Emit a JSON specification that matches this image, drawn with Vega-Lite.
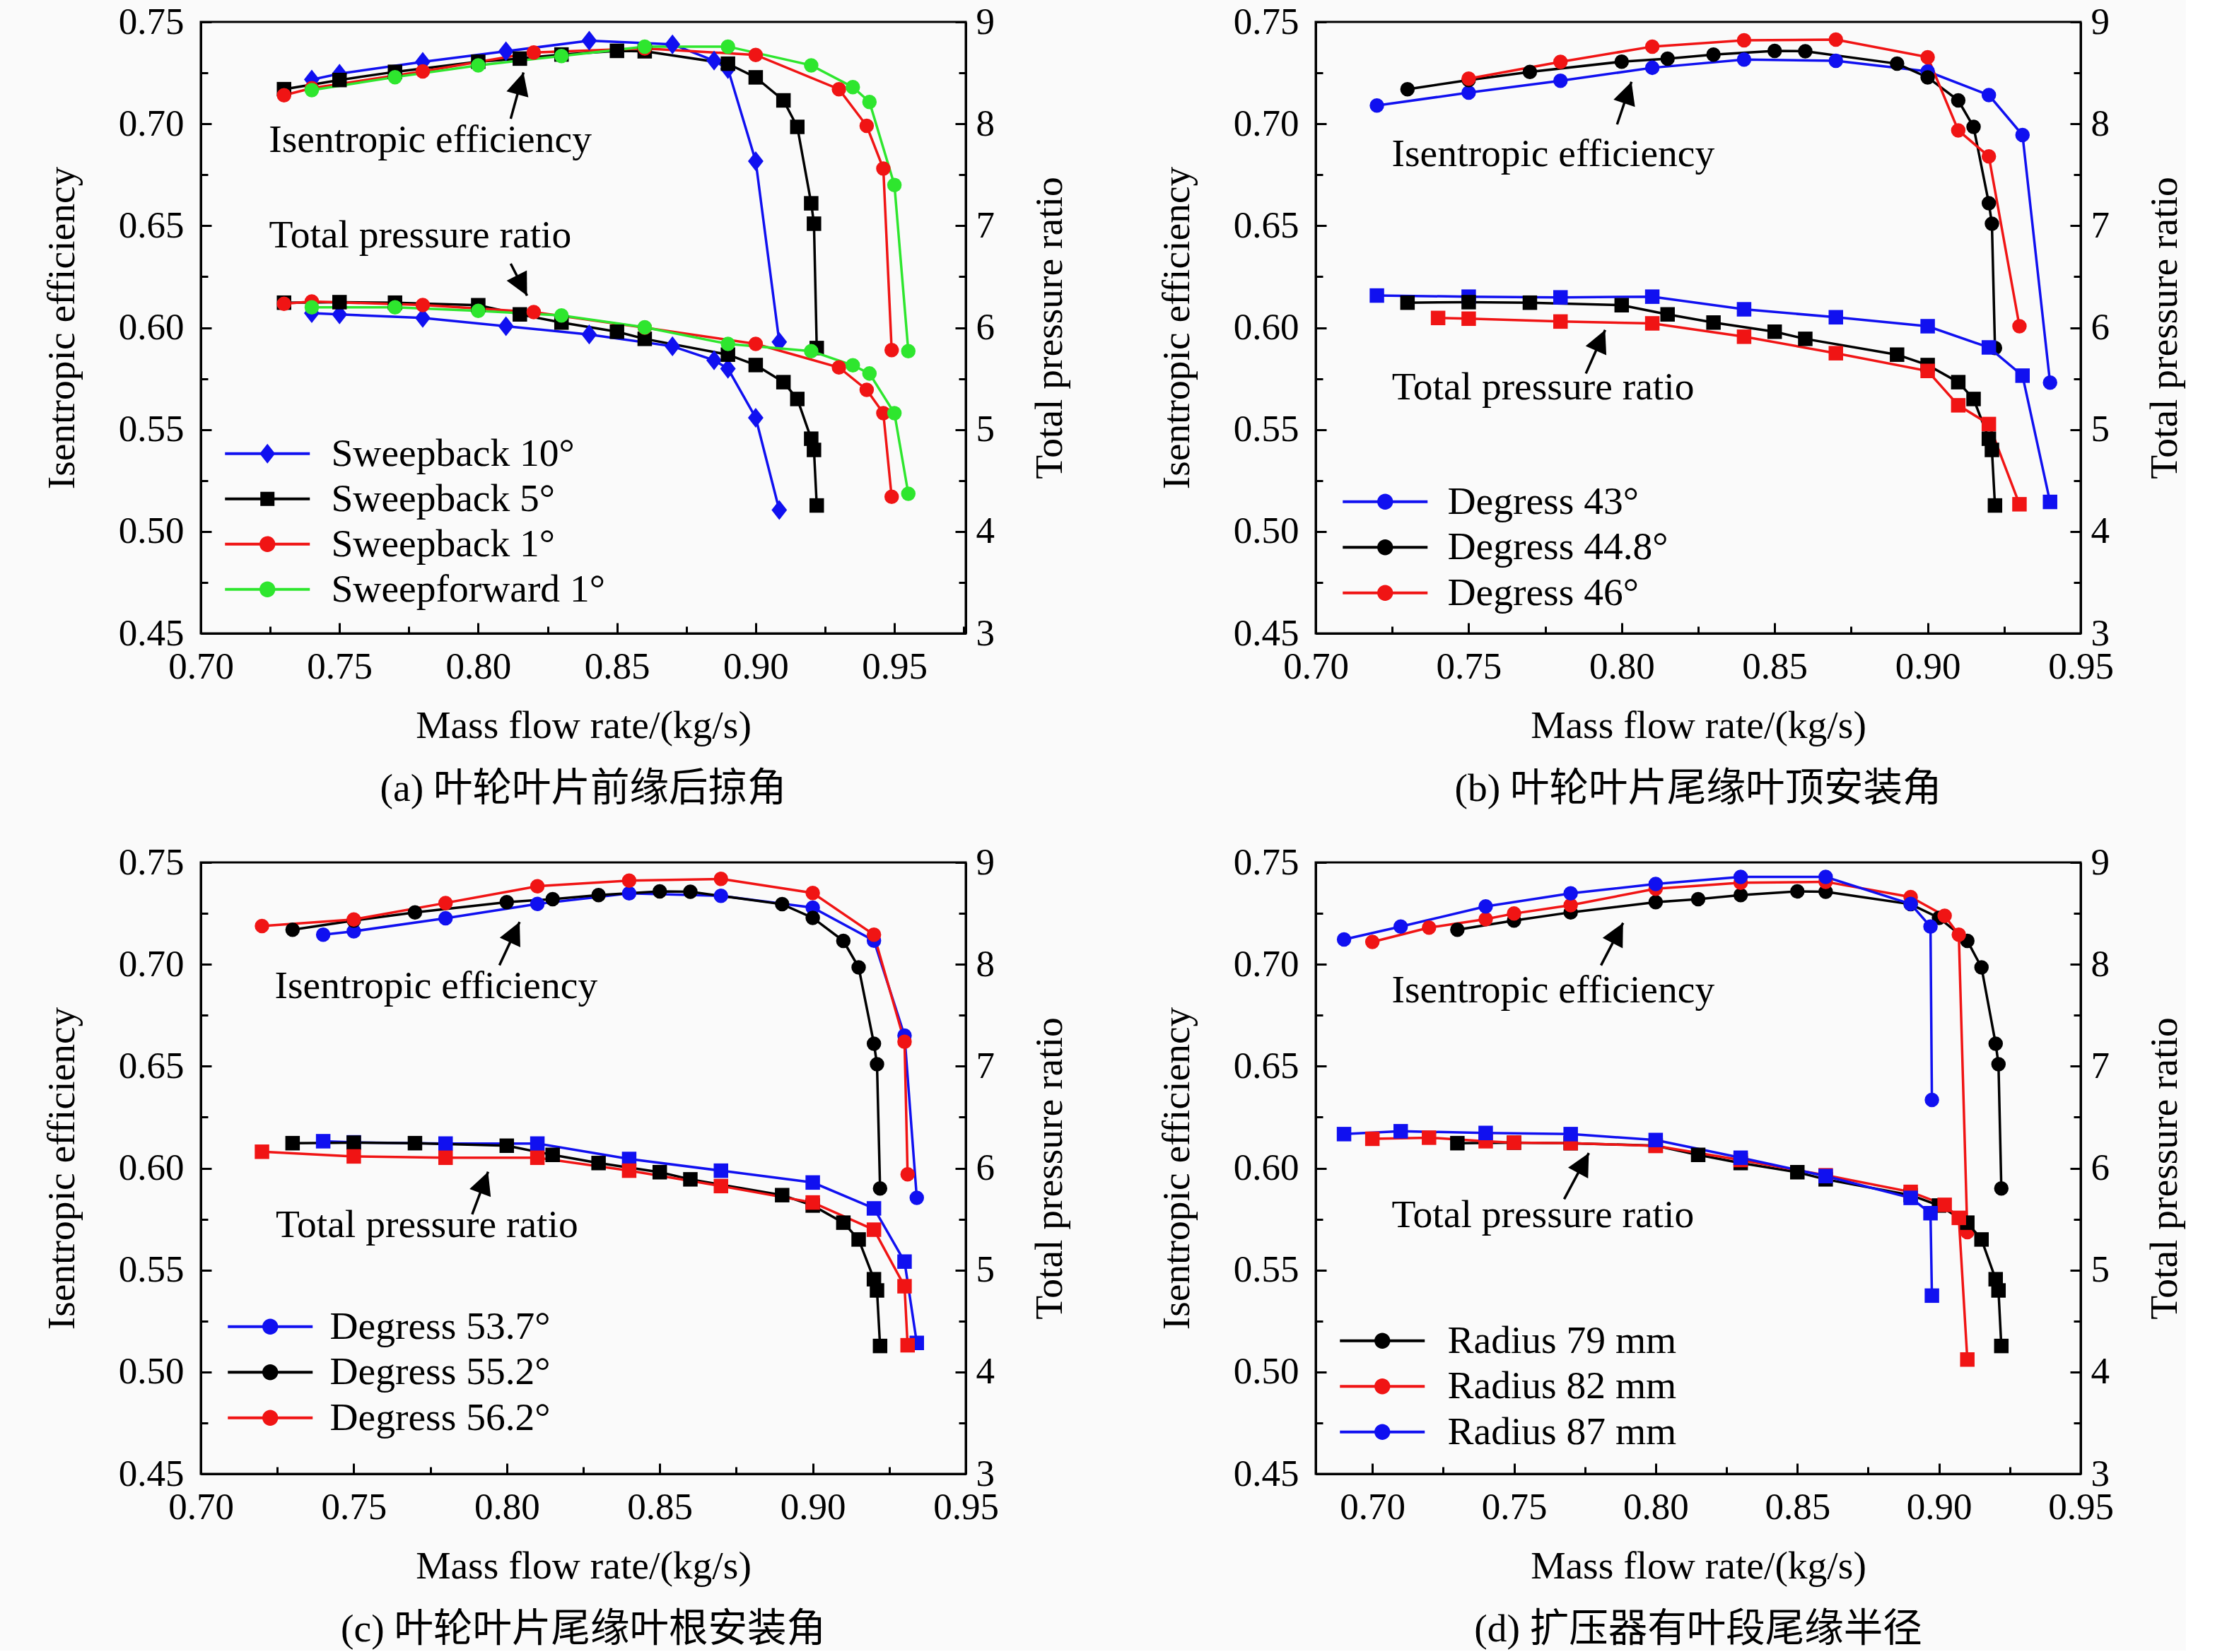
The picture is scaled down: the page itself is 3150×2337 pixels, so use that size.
{
  "$schema": "https://vega.github.io/schema/vega-lite/v6.json",
  "background": "#fafafa",
  "padding": {"left": 58, "top": 3, "right": 0, "bottom": 0},
  "datasets": {
    "a": [
      {"s": "Sweepback 10°", "x": 0.74, "eff": 0.7217, "pr": 6.143},
      {"s": "Sweepback 10°", "x": 0.75, "eff": 0.7246, "pr": 6.13},
      {"s": "Sweepback 10°", "x": 0.78, "eff": 0.7304, "pr": 6.095},
      {"s": "Sweepback 10°", "x": 0.81, "eff": 0.7356, "pr": 6.014},
      {"s": "Sweepback 10°", "x": 0.84, "eff": 0.7408, "pr": 5.933},
      {"s": "Sweepback 10°", "x": 0.87, "eff": 0.739, "pr": 5.817},
      {"s": "Sweepback 10°", "x": 0.885, "eff": 0.731, "pr": 5.68},
      {"s": "Sweepback 10°", "x": 0.89, "eff": 0.7269, "pr": 5.597},
      {"s": "Sweepback 10°", "x": 0.9, "eff": 0.6817, "pr": 5.116},
      {"s": "Sweepback 10°", "x": 0.9085, "eff": 0.593, "pr": 4.21},
      {"s": "Sweepback 5°", "x": 0.73, "eff": 0.717, "pr": 6.245},
      {"s": "Sweepback 5°", "x": 0.75, "eff": 0.7215, "pr": 6.25},
      {"s": "Sweepback 5°", "x": 0.77, "eff": 0.7255, "pr": 6.245},
      {"s": "Sweepback 5°", "x": 0.8, "eff": 0.7305, "pr": 6.22},
      {"s": "Sweepback 5°", "x": 0.815, "eff": 0.732, "pr": 6.13},
      {"s": "Sweepback 5°", "x": 0.83, "eff": 0.734, "pr": 6.05},
      {"s": "Sweepback 5°", "x": 0.85, "eff": 0.7358, "pr": 5.96},
      {"s": "Sweepback 5°", "x": 0.86, "eff": 0.7356, "pr": 5.89},
      {"s": "Sweepback 5°", "x": 0.89, "eff": 0.7295, "pr": 5.735},
      {"s": "Sweepback 5°", "x": 0.9, "eff": 0.7228, "pr": 5.633},
      {"s": "Sweepback 5°", "x": 0.91, "eff": 0.7115, "pr": 5.465},
      {"s": "Sweepback 5°", "x": 0.915, "eff": 0.6985, "pr": 5.3},
      {"s": "Sweepback 5°", "x": 0.92, "eff": 0.661, "pr": 4.91},
      {"s": "Sweepback 5°", "x": 0.921, "eff": 0.651, "pr": 4.8},
      {"s": "Sweepback 5°", "x": 0.922, "eff": 0.59, "pr": 4.255},
      {"s": "Sweepback 1°", "x": 0.73, "eff": 0.714, "pr": 6.234},
      {"s": "Sweepback 1°", "x": 0.74, "eff": 0.7175, "pr": 6.257},
      {"s": "Sweepback 1°", "x": 0.78, "eff": 0.7257, "pr": 6.222},
      {"s": "Sweepback 1°", "x": 0.82, "eff": 0.735, "pr": 6.153},
      {"s": "Sweepback 1°", "x": 0.86, "eff": 0.737, "pr": 6.0},
      {"s": "Sweepback 1°", "x": 0.9, "eff": 0.7338, "pr": 5.84},
      {"s": "Sweepback 1°", "x": 0.93, "eff": 0.717, "pr": 5.61},
      {"s": "Sweepback 1°", "x": 0.94, "eff": 0.699, "pr": 5.39},
      {"s": "Sweepback 1°", "x": 0.946, "eff": 0.678, "pr": 5.16},
      {"s": "Sweepback 1°", "x": 0.949, "eff": 0.589, "pr": 4.34},
      {"s": "Sweepforward 1°", "x": 0.74, "eff": 0.7165, "pr": 6.2},
      {"s": "Sweepforward 1°", "x": 0.77, "eff": 0.7229, "pr": 6.2},
      {"s": "Sweepforward 1°", "x": 0.8, "eff": 0.7287, "pr": 6.165},
      {"s": "Sweepforward 1°", "x": 0.83, "eff": 0.7333, "pr": 6.12},
      {"s": "Sweepforward 1°", "x": 0.86, "eff": 0.7379, "pr": 6.003},
      {"s": "Sweepforward 1°", "x": 0.89, "eff": 0.7379, "pr": 5.84},
      {"s": "Sweepforward 1°", "x": 0.92, "eff": 0.7287, "pr": 5.77},
      {"s": "Sweepforward 1°", "x": 0.935, "eff": 0.718, "pr": 5.63},
      {"s": "Sweepforward 1°", "x": 0.941, "eff": 0.7107, "pr": 5.55},
      {"s": "Sweepforward 1°", "x": 0.95, "eff": 0.67, "pr": 5.16},
      {"s": "Sweepforward 1°", "x": 0.955, "eff": 0.5885, "pr": 4.37}
    ],
    "b": [
      {"s": "Degress 43°", "x": 0.72, "eff": 0.709, "pr": 6.315},
      {"s": "Degress 43°", "x": 0.75, "eff": 0.7153, "pr": 6.304},
      {"s": "Degress 43°", "x": 0.78, "eff": 0.7211, "pr": 6.297},
      {"s": "Degress 43°", "x": 0.81, "eff": 0.7275, "pr": 6.304},
      {"s": "Degress 43°", "x": 0.84, "eff": 0.7315, "pr": 6.18},
      {"s": "Degress 43°", "x": 0.87, "eff": 0.7309, "pr": 6.102},
      {"s": "Degress 43°", "x": 0.9, "eff": 0.7257, "pr": 6.014},
      {"s": "Degress 43°", "x": 0.92, "eff": 0.7141, "pr": 5.806},
      {"s": "Degress 43°", "x": 0.931, "eff": 0.6945, "pr": 5.529},
      {"s": "Degress 43°", "x": 0.94, "eff": 0.573, "pr": 4.29},
      {"s": "Degress 44.8°", "x": 0.73, "eff": 0.717, "pr": 6.245},
      {"s": "Degress 44.8°", "x": 0.75, "eff": 0.7215, "pr": 6.25},
      {"s": "Degress 44.8°", "x": 0.77, "eff": 0.7255, "pr": 6.245},
      {"s": "Degress 44.8°", "x": 0.8, "eff": 0.7305, "pr": 6.22},
      {"s": "Degress 44.8°", "x": 0.815, "eff": 0.732, "pr": 6.13},
      {"s": "Degress 44.8°", "x": 0.83, "eff": 0.734, "pr": 6.05},
      {"s": "Degress 44.8°", "x": 0.85, "eff": 0.7358, "pr": 5.96},
      {"s": "Degress 44.8°", "x": 0.86, "eff": 0.7356, "pr": 5.89},
      {"s": "Degress 44.8°", "x": 0.89, "eff": 0.7295, "pr": 5.735},
      {"s": "Degress 44.8°", "x": 0.9, "eff": 0.7228, "pr": 5.633},
      {"s": "Degress 44.8°", "x": 0.91, "eff": 0.7115, "pr": 5.465},
      {"s": "Degress 44.8°", "x": 0.915, "eff": 0.6985, "pr": 5.3},
      {"s": "Degress 44.8°", "x": 0.92, "eff": 0.661, "pr": 4.91},
      {"s": "Degress 44.8°", "x": 0.921, "eff": 0.651, "pr": 4.8},
      {"s": "Degress 44.8°", "x": 0.922, "eff": 0.59, "pr": 4.255},
      {"s": "Degress 46°", "x": 0.74, "eff": null, "pr": 6.095},
      {"s": "Degress 46°", "x": 0.75, "eff": 0.7222, "pr": 6.088},
      {"s": "Degress 46°", "x": 0.78, "eff": 0.7304, "pr": 6.06},
      {"s": "Degress 46°", "x": 0.81, "eff": 0.7379, "pr": 6.042},
      {"s": "Degress 46°", "x": 0.84, "eff": 0.741, "pr": 5.911},
      {"s": "Degress 46°", "x": 0.87, "eff": 0.7413, "pr": 5.749},
      {"s": "Degress 46°", "x": 0.9, "eff": 0.7327, "pr": 5.575},
      {"s": "Degress 46°", "x": 0.91, "eff": 0.6968, "pr": 5.238},
      {"s": "Degress 46°", "x": 0.92, "eff": 0.684, "pr": 5.054},
      {"s": "Degress 46°", "x": 0.93, "eff": 0.6007, "pr": 4.267}
    ],
    "c": [
      {"s": "Degress 53.7°", "x": 0.74, "eff": 0.7145, "pr": 6.264},
      {"s": "Degress 53.7°", "x": 0.75, "eff": 0.7162, "pr": 6.253},
      {"s": "Degress 53.7°", "x": 0.78, "eff": 0.7226, "pr": 6.241},
      {"s": "Degress 53.7°", "x": 0.81, "eff": 0.7296, "pr": 6.241},
      {"s": "Degress 53.7°", "x": 0.84, "eff": 0.7348, "pr": 6.09},
      {"s": "Degress 53.7°", "x": 0.87, "eff": 0.7336, "pr": 5.975},
      {"s": "Degress 53.7°", "x": 0.9, "eff": 0.7278, "pr": 5.859},
      {"s": "Degress 53.7°", "x": 0.92, "eff": 0.7116, "pr": 5.605},
      {"s": "Degress 53.7°", "x": 0.93, "eff": 0.665, "pr": 5.083},
      {"s": "Degress 53.7°", "x": 0.934, "eff": 0.5854, "pr": 4.285},
      {"s": "Degress 55.2°", "x": 0.73, "eff": 0.717, "pr": 6.245},
      {"s": "Degress 55.2°", "x": 0.75, "eff": 0.7215, "pr": 6.25},
      {"s": "Degress 55.2°", "x": 0.77, "eff": 0.7255, "pr": 6.245},
      {"s": "Degress 55.2°", "x": 0.8, "eff": 0.7305, "pr": 6.22},
      {"s": "Degress 55.2°", "x": 0.815, "eff": 0.732, "pr": 6.13},
      {"s": "Degress 55.2°", "x": 0.83, "eff": 0.734, "pr": 6.05},
      {"s": "Degress 55.2°", "x": 0.85, "eff": 0.7358, "pr": 5.96},
      {"s": "Degress 55.2°", "x": 0.86, "eff": 0.7356, "pr": 5.89},
      {"s": "Degress 55.2°", "x": 0.89, "eff": 0.7295, "pr": 5.735},
      {"s": "Degress 55.2°", "x": 0.9, "eff": 0.7228, "pr": 5.633},
      {"s": "Degress 55.2°", "x": 0.91, "eff": 0.7115, "pr": 5.465},
      {"s": "Degress 55.2°", "x": 0.915, "eff": 0.6985, "pr": 5.3},
      {"s": "Degress 55.2°", "x": 0.92, "eff": 0.661, "pr": 4.91},
      {"s": "Degress 55.2°", "x": 0.921, "eff": 0.651, "pr": 4.8},
      {"s": "Degress 55.2°", "x": 0.922, "eff": 0.59, "pr": 4.255},
      {"s": "Degress 56.2°", "x": 0.72, "eff": 0.7188, "pr": 6.161},
      {"s": "Degress 56.2°", "x": 0.75, "eff": 0.722, "pr": 6.115},
      {"s": "Degress 56.2°", "x": 0.78, "eff": 0.7301, "pr": 6.102},
      {"s": "Degress 56.2°", "x": 0.81, "eff": 0.7383, "pr": 6.102},
      {"s": "Degress 56.2°", "x": 0.84, "eff": 0.7411, "pr": 5.975},
      {"s": "Degress 56.2°", "x": 0.87, "eff": 0.7419, "pr": 5.824},
      {"s": "Degress 56.2°", "x": 0.9, "eff": 0.735, "pr": 5.663},
      {"s": "Degress 56.2°", "x": 0.92, "eff": 0.7145, "pr": 5.396},
      {"s": "Degress 56.2°", "x": 0.93, "eff": 0.662, "pr": 4.841},
      {"s": "Degress 56.2°", "x": 0.931, "eff": 0.597, "pr": 4.262}
    ],
    "d": [
      {"s": "Radius 79 mm", "x": 0.73, "eff": 0.717, "pr": 6.245},
      {"s": "Radius 79 mm", "x": 0.75, "eff": 0.7215, "pr": 6.25},
      {"s": "Radius 79 mm", "x": 0.77, "eff": 0.7255, "pr": 6.245},
      {"s": "Radius 79 mm", "x": 0.8, "eff": 0.7305, "pr": 6.22},
      {"s": "Radius 79 mm", "x": 0.815, "eff": 0.732, "pr": 6.13},
      {"s": "Radius 79 mm", "x": 0.83, "eff": 0.734, "pr": 6.05},
      {"s": "Radius 79 mm", "x": 0.85, "eff": 0.7358, "pr": 5.96},
      {"s": "Radius 79 mm", "x": 0.86, "eff": 0.7356, "pr": 5.89},
      {"s": "Radius 79 mm", "x": 0.89, "eff": 0.7295, "pr": 5.735},
      {"s": "Radius 79 mm", "x": 0.9, "eff": 0.7228, "pr": 5.633},
      {"s": "Radius 79 mm", "x": 0.91, "eff": 0.7115, "pr": 5.465},
      {"s": "Radius 79 mm", "x": 0.915, "eff": 0.6985, "pr": 5.3},
      {"s": "Radius 79 mm", "x": 0.92, "eff": 0.661, "pr": 4.91},
      {"s": "Radius 79 mm", "x": 0.921, "eff": 0.651, "pr": 4.8},
      {"s": "Radius 79 mm", "x": 0.922, "eff": 0.59, "pr": 4.255},
      {"s": "Radius 82 mm", "x": 0.7, "eff": 0.711, "pr": 6.288},
      {"s": "Radius 82 mm", "x": 0.72, "eff": 0.718, "pr": 6.299},
      {"s": "Radius 82 mm", "x": 0.74, "eff": 0.7222, "pr": 6.264},
      {"s": "Radius 82 mm", "x": 0.75, "eff": 0.7249, "pr": 6.25},
      {"s": "Radius 82 mm", "x": 0.77, "eff": 0.729, "pr": 6.245},
      {"s": "Radius 82 mm", "x": 0.8, "eff": 0.7371, "pr": 6.218},
      {"s": "Radius 82 mm", "x": 0.83, "eff": 0.74, "pr": 6.08},
      {"s": "Radius 82 mm", "x": 0.86, "eff": 0.7405, "pr": 5.93},
      {"s": "Radius 82 mm", "x": 0.89, "eff": 0.733, "pr": 5.767},
      {"s": "Radius 82 mm", "x": 0.902, "eff": 0.7238, "pr": 5.64},
      {"s": "Radius 82 mm", "x": 0.907, "eff": 0.7145, "pr": 5.512},
      {"s": "Radius 82 mm", "x": 0.91, "eff": 0.5686, "pr": 4.122},
      {"s": "Radius 87 mm", "x": 0.69, "eff": 0.7122, "pr": 6.334},
      {"s": "Radius 87 mm", "x": 0.71, "eff": 0.7185, "pr": 6.362},
      {"s": "Radius 87 mm", "x": 0.74, "eff": 0.7284, "pr": 6.345},
      {"s": "Radius 87 mm", "x": 0.77, "eff": 0.7348, "pr": 6.334},
      {"s": "Radius 87 mm", "x": 0.8, "eff": 0.7394, "pr": 6.276},
      {"s": "Radius 87 mm", "x": 0.83, "eff": 0.7429, "pr": 6.102},
      {"s": "Radius 87 mm", "x": 0.86, "eff": 0.7429, "pr": 5.922},
      {"s": "Radius 87 mm", "x": 0.89, "eff": 0.7296, "pr": 5.708},
      {"s": "Radius 87 mm", "x": 0.897, "eff": 0.7185, "pr": 5.558},
      {"s": "Radius 87 mm", "x": 0.8975, "eff": 0.6335, "pr": 4.749}
    ]
  },
  "columns": 2,
  "spacing": {"row": 324, "column": 495},
  "bounds": "flush",
  "concat": [
    {
      "width": 1082,
      "height": 865,
      "data": {"name": "a"},
      "title": "(a) 叶轮叶片前缘后掠角",
      "encoding": {
        "x": {
          "field": "x", "type": "quantitative",
          "scale": {"domain": [0.7, 0.9757], "nice": false, "zero": false},
          "axis": {
            "title": "Mass flow rate/(kg/s)",
            "values": [0.7, 0.725, 0.75, 0.775, 0.8, 0.825, 0.85, 0.875, 0.9, 0.925, 0.95, 0.975],
            "labelExpr": "abs(datum.value*20-round(datum.value*20))<0.01 ? format(datum.value, '.2f') : ''",
            "tickSize": {"condition": {"test": "abs(datum.value*20-round(datum.value*20))<0.01", "value": -15}, "value": -10},
            "labelPadding": 36, "titlePadding": 24
          }
        }
      },
      "layer": [
        {
          "encoding": {
            "y": {
              "field": "eff", "type": "quantitative",
              "scale": {"domain": [0.45, 0.75], "nice": false, "zero": false},
              "axis": {
                "title": "Isentropic efficiency", "orient": "left",
                "values": [0.45, 0.475, 0.5, 0.525, 0.55, 0.575, 0.6, 0.625, 0.65, 0.675, 0.7, 0.725, 0.75],
                "labelExpr": "abs(datum.value*20-round(datum.value*20))<0.01 ? format(datum.value, '.2f') : ''",
                "tickSize": {"condition": {"test": "abs(datum.value*20-round(datum.value*20))<0.01", "value": -15}, "value": -10},
                "labelPadding": 39, "titlePadding": 51
              }
            }
          },
          "layer": [
            {
              "mark": {"type": "line", "strokeWidth": 3.5},
              "encoding": {
                "color": {"field": "s", "type": "nominal", "legend": null,
                  "scale": {"domain": ["Sweepback 10°", "Sweepback 5°", "Sweepback 1°", "Sweepforward 1°"], "range": ["#1010f0", "#000000", "#f01414", "#2ee62e"]}}
              }
            },
            {
              "mark": {"type": "point", "filled": true, "opacity": 1, "size": 420},
              "encoding": {
                "color": {"field": "s", "type": "nominal", "legend": null},
                "shape": {"field": "s", "type": "nominal", "legend": null,
                  "scale": {"domain": ["Sweepback 10°", "Sweepback 5°", "Sweepback 1°", "Sweepforward 1°"], "range": ["M0,-1.37L1.07,0L0,1.37L-1.07,0Z", "square", "circle", "circle"]}}
              }
            },
            {
              "transform": [{"filter": "datum.x == 0.73 && datum.pr == 6.245"}],
              "mark": {"type": "text", "text": "Isentropic efficiency", "fontSize": 55.5, "color": "black", "align": "center", "baseline": "middle"},
              "encoding": {"x": {"datum": 0.7827}, "y": {"datum": 0.6921}}
            },
            {
              "transform": [{"filter": "datum.x == 0.73 && datum.pr == 6.245"}],
              "mark": {"type": "rule", "strokeWidth": 3.5, "color": "black"},
              "encoding": {"x": {"datum": 0.8117}, "y": {"datum": 0.7025}, "x2": {"datum": 0.8163}, "y2": {"datum": 0.7252}}
            },
            {
              "transform": [{"filter": "datum.x == 0.73 && datum.pr == 6.245"}],
              "mark": {"type": "point", "shape": "M0,0L0.55,1.1L-0.55,1.1Z", "size": 3400, "filled": true, "color": "black", "opacity": 1, "angle": 15.4},
              "encoding": {"x": {"datum": 0.8163}, "y": {"datum": 0.7252}}
            },
            {
              "transform": [{"filter": "datum.x == 0.73 && datum.pr == 6.245"}],
              "mark": {"type": "text", "text": "Total pressure ratio", "fontSize": 55.5, "color": "black", "align": "center", "baseline": "middle"},
              "encoding": {"x": {"datum": 0.7791}, "y": {"datum": 0.6453}}
            },
            {
              "transform": [{"filter": "datum.x == 0.73 && datum.pr == 6.245"}],
              "mark": {"type": "rule", "strokeWidth": 3.5, "color": "black"},
              "encoding": {"x": {"datum": 0.8117}, "y": {"datum": 0.6314}, "x2": {"datum": 0.8176}, "y2": {"datum": 0.6157}}
            },
            {
              "transform": [{"filter": "datum.x == 0.73 && datum.pr == 6.245"}],
              "mark": {"type": "point", "shape": "M0,0L0.55,1.1L-0.55,1.1Z", "size": 3400, "filled": true, "color": "black", "opacity": 1, "angle": 152.9},
              "encoding": {"x": {"datum": 0.8176}, "y": {"datum": 0.6157}}
            }
          ]
        },
        {
          "encoding": {
            "y": {
              "field": "pr", "type": "quantitative",
              "scale": {"domain": [3, 9], "nice": false, "zero": false},
              "axis": {
                "title": "Total pressure ratio", "orient": "right",
                "values": [3, 3.5, 4, 4.5, 5, 5.5, 6, 6.5, 7, 7.5, 8, 8.5, 9],
                "labelExpr": "datum.value % 1 == 0 ? format(datum.value, 'd') : ''",
                "tickSize": {"condition": {"test": "datum.value % 1 == 0", "value": -15}, "value": -10},
                "labelPadding": 29, "titleAngle": 270, "titleBaseline": "top", "titlePadding": 51
              }
            },
            "color": {"field": "s", "type": "nominal", "legend": null,
              "scale": {"domain": ["Sweepback 10°", "Sweepback 5°", "Sweepback 1°", "Sweepforward 1°"], "range": ["#1010f0", "#000000", "#f01414", "#2ee62e"]}}
          },
          "layer": [
            {"mark": {"type": "line", "strokeWidth": 3.5}},
            {
              "mark": {"type": "point", "filled": true, "opacity": 1, "size": 420},
              "encoding": {
                "shape": {"field": "s", "type": "nominal", "legend": null,
                  "scale": {"domain": ["Sweepback 10°", "Sweepback 5°", "Sweepback 1°", "Sweepforward 1°"], "range": ["M0,-1.37L1.07,0L0,1.37L-1.07,0Z", "square", "circle", "circle"]}}
              }
            }
          ]
        },
        {
          "data": {"values": []},
          "mark": {"type": "point", "filled": true, "opacity": 1},
          "encoding": {
            "color": {"field": "s", "type": "nominal",
              "scale": {"domain": ["Sweepback 10°", "Sweepback 5°", "Sweepback 1°", "Sweepforward 1°"], "range": ["#1010f0", "#000000", "#f01414", "#2ee62e"]},
              "legend": {"orient": "none", "legendX": 66.5, "legendY": 583, "title": null, "padding": 0, "symbolSize": 1600, "symbolStrokeWidth": 0, "labelOffset": 62.5, "rowPadding": 7, "labelFontSize": 55.5, "labelColor": "black", "labelLimit": 0}},
            "shape": {"field": "s", "type": "nominal",
              "scale": {"domain": ["Sweepback 10°", "Sweepback 5°", "Sweepback 1°", "Sweepforward 1°"], "range": [
                "M-3,-0.1H3V0.1H-3Z M0,-0.7L0.55,0L0,0.7L-0.55,0Z",
                "M-3,-0.1H3V0.1H-3Z M-0.5,-0.5H0.5V0.5H-0.5Z",
                "M-3,-0.1H3V0.1H-3Z M-0.56,0A0.56,0.56,0,1,1,0.56,0A0.56,0.56,0,1,1,-0.56,0Z",
                "M-3,-0.1H3V0.1H-3Z M-0.56,0A0.56,0.56,0,1,1,0.56,0A0.56,0.56,0,1,1,-0.56,0Z"]}}
          }
        }
      ],
      "resolve": {"scale": {"y": "independent", "color": "independent", "shape": "independent"}}
    },
    {
      "width": 1082,
      "height": 865,
      "data": {"name": "b"},
      "title": "(b) 叶轮叶片尾缘叶顶安装角",
      "encoding": {
        "x": {
          "field": "x", "type": "quantitative",
          "scale": {"domain": [0.7, 0.95], "nice": false, "zero": false},
          "axis": {
            "title": "Mass flow rate/(kg/s)",
            "values": [0.7, 0.725, 0.75, 0.775, 0.8, 0.825, 0.85, 0.875, 0.9, 0.925, 0.95],
            "labelExpr": "abs(datum.value*20-round(datum.value*20))<0.01 ? format(datum.value, '.2f') : ''",
            "tickSize": {"condition": {"test": "abs(datum.value*20-round(datum.value*20))<0.01", "value": -15}, "value": -10},
            "labelPadding": 36, "titlePadding": 24
          }
        }
      },
      "layer": [
        {
          "encoding": {
            "y": {
              "field": "eff", "type": "quantitative",
              "scale": {"domain": [0.45, 0.75], "nice": false, "zero": false},
              "axis": {
                "title": "Isentropic efficiency", "orient": "left",
                "values": [0.45, 0.475, 0.5, 0.525, 0.55, 0.575, 0.6, 0.625, 0.65, 0.675, 0.7, 0.725, 0.75],
                "labelExpr": "abs(datum.value*20-round(datum.value*20))<0.01 ? format(datum.value, '.2f') : ''",
                "tickSize": {"condition": {"test": "abs(datum.value*20-round(datum.value*20))<0.01", "value": -15}, "value": -10},
                "labelPadding": 39, "titlePadding": 51
              }
            }
          },
          "layer": [
            {
              "mark": {"type": "line", "strokeWidth": 3.5},
              "encoding": {"color": {"field": "s", "type": "nominal", "legend": null,
                "scale": {"domain": ["Degress 43°", "Degress 44.8°", "Degress 46°"], "range": ["#1010f0", "#000000", "#f01414"]}}}
            },
            {
              "mark": {"type": "point", "filled": true, "opacity": 1, "size": 420, "shape": "circle"},
              "encoding": {"color": {"field": "s", "type": "nominal", "legend": null}}
            },
            {
              "transform": [{"filter": "datum.x == 0.73 && datum.pr == 6.245"}],
              "mark": {"type": "text", "text": "Isentropic efficiency", "fontSize": 55.5, "color": "black", "align": "center", "baseline": "middle"},
              "encoding": {"x": {"datum": 0.7776}, "y": {"datum": 0.6851}}
            },
            {
              "transform": [{"filter": "datum.x == 0.73 && datum.pr == 6.245"}],
              "mark": {"type": "rule", "strokeWidth": 3.5, "color": "black"},
              "encoding": {"x": {"datum": 0.7985}, "y": {"datum": 0.6997}, "x2": {"datum": 0.8032}, "y2": {"datum": 0.7206}}
            },
            {
              "transform": [{"filter": "datum.x == 0.73 && datum.pr == 6.245"}],
              "mark": {"type": "point", "shape": "M0,0L0.55,1.1L-0.55,1.1Z", "size": 3400, "filled": true, "color": "black", "opacity": 1, "angle": 18.6},
              "encoding": {"x": {"datum": 0.8032}, "y": {"datum": 0.7206}}
            },
            {
              "transform": [{"filter": "datum.x == 0.73 && datum.pr == 6.245"}],
              "mark": {"type": "text", "text": "Total pressure ratio", "fontSize": 55.5, "color": "black", "align": "center", "baseline": "middle"},
              "encoding": {"x": {"datum": 0.7743}, "y": {"datum": 0.5707}}
            },
            {
              "transform": [{"filter": "datum.x == 0.73 && datum.pr == 6.245"}],
              "mark": {"type": "rule", "strokeWidth": 3.5, "color": "black"},
              "encoding": {"x": {"datum": 0.7883}, "y": {"datum": 0.5775}, "x2": {"datum": 0.7946}, "y2": {"datum": 0.5989}}
            },
            {
              "transform": [{"filter": "datum.x == 0.73 && datum.pr == 6.245"}],
              "mark": {"type": "point", "shape": "M0,0L0.55,1.1L-0.55,1.1Z", "size": 3400, "filled": true, "color": "black", "opacity": 1, "angle": 23.9},
              "encoding": {"x": {"datum": 0.7946}, "y": {"datum": 0.5989}}
            }
          ]
        },
        {
          "encoding": {
            "y": {
              "field": "pr", "type": "quantitative",
              "scale": {"domain": [3, 9], "nice": false, "zero": false},
              "axis": {
                "title": "Total pressure ratio", "orient": "right",
                "values": [3, 3.5, 4, 4.5, 5, 5.5, 6, 6.5, 7, 7.5, 8, 8.5, 9],
                "labelExpr": "datum.value % 1 == 0 ? format(datum.value, 'd') : ''",
                "tickSize": {"condition": {"test": "datum.value % 1 == 0", "value": -15}, "value": -10},
                "labelPadding": 29, "titleAngle": 270, "titleBaseline": "top", "titlePadding": 51
              }
            },
            "color": {"field": "s", "type": "nominal", "legend": null,
              "scale": {"domain": ["Degress 43°", "Degress 44.8°", "Degress 46°"], "range": ["#1010f0", "#000000", "#f01414"]}}
          },
          "layer": [
            {"mark": {"type": "line", "strokeWidth": 3.5}},
            {"mark": {"type": "point", "filled": true, "opacity": 1, "size": 420, "shape": "square"}}
          ]
        },
        {
          "data": {"values": []},
          "mark": {"type": "point", "filled": true, "opacity": 1},
          "encoding": {
            "color": {"field": "s", "type": "nominal",
              "scale": {"domain": ["Degress 43°", "Degress 44.8°", "Degress 46°"], "range": ["#1010f0", "#000000", "#f01414"]},
              "legend": {"orient": "none", "legendX": 70.5, "legendY": 651, "title": null, "padding": 0, "symbolSize": 1600, "symbolStrokeWidth": 0, "labelOffset": 60.5, "rowPadding": 7.5, "labelFontSize": 55.5, "labelColor": "black", "labelLimit": 0,
                "symbolType": "M-3,-0.1H3V0.1H-3Z M-0.56,0A0.56,0.56,0,1,1,0.56,0A0.56,0.56,0,1,1,-0.56,0Z"}}
          }
        }
      ],
      "resolve": {"scale": {"y": "independent", "color": "independent"}}
    },
    {
      "width": 1082,
      "height": 865,
      "data": {"name": "c"},
      "title": "(c) 叶轮叶片尾缘叶根安装角",
      "encoding": {
        "x": {
          "field": "x", "type": "quantitative",
          "scale": {"domain": [0.7, 0.95], "nice": false, "zero": false},
          "axis": {
            "title": "Mass flow rate/(kg/s)",
            "values": [0.7, 0.725, 0.75, 0.775, 0.8, 0.825, 0.85, 0.875, 0.9, 0.925, 0.95],
            "labelExpr": "abs(datum.value*20-round(datum.value*20))<0.01 ? format(datum.value, '.2f') : ''",
            "tickSize": {"condition": {"test": "abs(datum.value*20-round(datum.value*20))<0.01", "value": -15}, "value": -10},
            "labelPadding": 36, "titlePadding": 24
          }
        }
      },
      "layer": [
        {
          "encoding": {
            "y": {
              "field": "eff", "type": "quantitative",
              "scale": {"domain": [0.45, 0.75], "nice": false, "zero": false},
              "axis": {
                "title": "Isentropic efficiency", "orient": "left",
                "values": [0.45, 0.475, 0.5, 0.525, 0.55, 0.575, 0.6, 0.625, 0.65, 0.675, 0.7, 0.725, 0.75],
                "labelExpr": "abs(datum.value*20-round(datum.value*20))<0.01 ? format(datum.value, '.2f') : ''",
                "tickSize": {"condition": {"test": "abs(datum.value*20-round(datum.value*20))<0.01", "value": -15}, "value": -10},
                "labelPadding": 39, "titlePadding": 51
              }
            }
          },
          "layer": [
            {
              "mark": {"type": "line", "strokeWidth": 3.5},
              "encoding": {"color": {"field": "s", "type": "nominal", "legend": null,
                "scale": {"domain": ["Degress 53.7°", "Degress 55.2°", "Degress 56.2°"], "range": ["#1010f0", "#000000", "#f01414"]}}}
            },
            {
              "mark": {"type": "point", "filled": true, "opacity": 1, "size": 420, "shape": "circle"},
              "encoding": {"color": {"field": "s", "type": "nominal", "legend": null}}
            },
            {
              "transform": [{"filter": "datum.x == 0.73 && datum.pr == 6.245"}],
              "mark": {"type": "text", "text": "Isentropic efficiency", "fontSize": 55.5, "color": "black", "align": "center", "baseline": "middle"},
              "encoding": {"x": {"datum": 0.7769}, "y": {"datum": 0.6893}}
            },
            {
              "transform": [{"filter": "datum.x == 0.73 && datum.pr == 6.245"}],
              "mark": {"type": "rule", "strokeWidth": 3.5, "color": "black"},
              "encoding": {"x": {"datum": 0.7976}, "y": {"datum": 0.6995}, "x2": {"datum": 0.8042}, "y2": {"datum": 0.7208}}
            },
            {
              "transform": [{"filter": "datum.x == 0.73 && datum.pr == 6.245"}],
              "mark": {"type": "point", "shape": "M0,0L0.55,1.1L-0.55,1.1Z", "size": 3400, "filled": true, "color": "black", "opacity": 1, "angle": 25},
              "encoding": {"x": {"datum": 0.8042}, "y": {"datum": 0.7208}}
            },
            {
              "transform": [{"filter": "datum.x == 0.73 && datum.pr == 6.245"}],
              "mark": {"type": "text", "text": "Total pressure ratio", "fontSize": 55.5, "color": "black", "align": "center", "baseline": "middle"},
              "encoding": {"x": {"datum": 0.7739}, "y": {"datum": 0.572}}
            },
            {
              "transform": [{"filter": "datum.x == 0.73 && datum.pr == 6.245"}],
              "mark": {"type": "rule", "strokeWidth": 3.5, "color": "black"},
              "encoding": {"x": {"datum": 0.7887}, "y": {"datum": 0.5773}, "x2": {"datum": 0.7939}, "y2": {"datum": 0.5982}}
            },
            {
              "transform": [{"filter": "datum.x == 0.73 && datum.pr == 6.245"}],
              "mark": {"type": "point", "shape": "M0,0L0.55,1.1L-0.55,1.1Z", "size": 3400, "filled": true, "color": "black", "opacity": 1, "angle": 20.5},
              "encoding": {"x": {"datum": 0.7939}, "y": {"datum": 0.5982}}
            }
          ]
        },
        {
          "encoding": {
            "y": {
              "field": "pr", "type": "quantitative",
              "scale": {"domain": [3, 9], "nice": false, "zero": false},
              "axis": {
                "title": "Total pressure ratio", "orient": "right",
                "values": [3, 3.5, 4, 4.5, 5, 5.5, 6, 6.5, 7, 7.5, 8, 8.5, 9],
                "labelExpr": "datum.value % 1 == 0 ? format(datum.value, 'd') : ''",
                "tickSize": {"condition": {"test": "datum.value % 1 == 0", "value": -15}, "value": -10},
                "labelPadding": 29, "titleAngle": 270, "titleBaseline": "top", "titlePadding": 51
              }
            },
            "color": {"field": "s", "type": "nominal", "legend": null,
              "scale": {"domain": ["Degress 53.7°", "Degress 55.2°", "Degress 56.2°"], "range": ["#1010f0", "#000000", "#f01414"]}}
          },
          "layer": [
            {"mark": {"type": "line", "strokeWidth": 3.5}},
            {"mark": {"type": "point", "filled": true, "opacity": 1, "size": 420, "shape": "square"}}
          ]
        },
        {
          "data": {"values": []},
          "mark": {"type": "point", "filled": true, "opacity": 1},
          "encoding": {
            "color": {"field": "s", "type": "nominal",
              "scale": {"domain": ["Degress 53.7°", "Degress 55.2°", "Degress 56.2°"], "range": ["#1010f0", "#000000", "#f01414"]},
              "legend": {"orient": "none", "legendX": 70.5, "legendY": 629, "title": null, "padding": 0, "symbolSize": 1600, "symbolStrokeWidth": 0, "labelOffset": 56.5, "rowPadding": 7.5, "labelFontSize": 55.5, "labelColor": "black", "labelLimit": 0,
                "symbolType": "M-3,-0.1H3V0.1H-3Z M-0.56,0A0.56,0.56,0,1,1,0.56,0A0.56,0.56,0,1,1,-0.56,0Z"}}
          }
        }
      ],
      "resolve": {"scale": {"y": "independent", "color": "independent"}}
    },
    {
      "width": 1082,
      "height": 865,
      "data": {"name": "d"},
      "title": "(d) 扩压器有叶段尾缘半径",
      "encoding": {
        "x": {
          "field": "x", "type": "quantitative",
          "scale": {"domain": [0.68, 0.95], "nice": false, "zero": false},
          "axis": {
            "title": "Mass flow rate/(kg/s)",
            "values": [0.7, 0.725, 0.75, 0.775, 0.8, 0.825, 0.85, 0.875, 0.9, 0.925, 0.95],
            "labelExpr": "abs(datum.value*20-round(datum.value*20))<0.01 ? format(datum.value, '.2f') : ''",
            "tickSize": {"condition": {"test": "abs(datum.value*20-round(datum.value*20))<0.01", "value": -15}, "value": -10},
            "labelPadding": 36, "titlePadding": 24
          }
        }
      },
      "layer": [
        {
          "encoding": {
            "y": {
              "field": "eff", "type": "quantitative",
              "scale": {"domain": [0.45, 0.75], "nice": false, "zero": false},
              "axis": {
                "title": "Isentropic efficiency", "orient": "left",
                "values": [0.45, 0.475, 0.5, 0.525, 0.55, 0.575, 0.6, 0.625, 0.65, 0.675, 0.7, 0.725, 0.75],
                "labelExpr": "abs(datum.value*20-round(datum.value*20))<0.01 ? format(datum.value, '.2f') : ''",
                "tickSize": {"condition": {"test": "abs(datum.value*20-round(datum.value*20))<0.01", "value": -15}, "value": -10},
                "labelPadding": 39, "titlePadding": 51
              }
            }
          },
          "layer": [
            {
              "mark": {"type": "line", "strokeWidth": 3.5},
              "encoding": {"color": {"field": "s", "type": "nominal", "legend": null,
                "scale": {"domain": ["Radius 79 mm", "Radius 82 mm", "Radius 87 mm"], "range": ["#000000", "#f01414", "#1010f0"]}}}
            },
            {
              "mark": {"type": "point", "filled": true, "opacity": 1, "size": 420, "shape": "circle"},
              "encoding": {"color": {"field": "s", "type": "nominal", "legend": null}}
            },
            {
              "transform": [{"filter": "datum.x == 0.73 && datum.pr == 6.245"}],
              "mark": {"type": "text", "text": "Isentropic efficiency", "fontSize": 55.5, "color": "black", "align": "center", "baseline": "middle"},
              "encoding": {"x": {"datum": 0.7638}, "y": {"datum": 0.6872}}
            },
            {
              "transform": [{"filter": "datum.x == 0.73 && datum.pr == 6.245"}],
              "mark": {"type": "rule", "strokeWidth": 3.5, "color": "black"},
              "encoding": {"x": {"datum": 0.7807}, "y": {"datum": 0.6995}, "x2": {"datum": 0.7885}, "y2": {"datum": 0.7203}}
            },
            {
              "transform": [{"filter": "datum.x == 0.73 && datum.pr == 6.245"}],
              "mark": {"type": "point", "shape": "M0,0L0.55,1.1L-0.55,1.1Z", "size": 3400, "filled": true, "color": "black", "opacity": 1, "angle": 27.5},
              "encoding": {"x": {"datum": 0.7885}, "y": {"datum": 0.7203}}
            },
            {
              "transform": [{"filter": "datum.x == 0.73 && datum.pr == 6.245"}],
              "mark": {"type": "text", "text": "Total pressure ratio", "fontSize": 55.5, "color": "black", "align": "center", "baseline": "middle"},
              "encoding": {"x": {"datum": 0.7602}, "y": {"datum": 0.5769}}
            },
            {
              "transform": [{"filter": "datum.x == 0.73 && datum.pr == 6.245"}],
              "mark": {"type": "rule", "strokeWidth": 3.5, "color": "black"},
              "encoding": {"x": {"datum": 0.7677}, "y": {"datum": 0.5848}, "x2": {"datum": 0.7764}, "y2": {"datum": 0.6074}}
            },
            {
              "transform": [{"filter": "datum.x == 0.73 && datum.pr == 6.245"}],
              "mark": {"type": "point", "shape": "M0,0L0.55,1.1L-0.55,1.1Z", "size": 3400, "filled": true, "color": "black", "opacity": 1, "angle": 28.2},
              "encoding": {"x": {"datum": 0.7764}, "y": {"datum": 0.6074}}
            }
          ]
        },
        {
          "encoding": {
            "y": {
              "field": "pr", "type": "quantitative",
              "scale": {"domain": [3, 9], "nice": false, "zero": false},
              "axis": {
                "title": "Total pressure ratio", "orient": "right",
                "values": [3, 3.5, 4, 4.5, 5, 5.5, 6, 6.5, 7, 7.5, 8, 8.5, 9],
                "labelExpr": "datum.value % 1 == 0 ? format(datum.value, 'd') : ''",
                "tickSize": {"condition": {"test": "datum.value % 1 == 0", "value": -15}, "value": -10},
                "labelPadding": 29, "titleAngle": 270, "titleBaseline": "top", "titlePadding": 51
              }
            },
            "color": {"field": "s", "type": "nominal", "legend": null,
              "scale": {"domain": ["Radius 79 mm", "Radius 82 mm", "Radius 87 mm"], "range": ["#000000", "#f01414", "#1010f0"]}}
          },
          "layer": [
            {"mark": {"type": "line", "strokeWidth": 3.5}},
            {"mark": {"type": "point", "filled": true, "opacity": 1, "size": 420, "shape": "square"}}
          ]
        },
        {
          "data": {"values": []},
          "mark": {"type": "point", "filled": true, "opacity": 1},
          "encoding": {
            "color": {"field": "s", "type": "nominal",
              "scale": {"domain": ["Radius 79 mm", "Radius 82 mm", "Radius 87 mm"], "range": ["#000000", "#f01414", "#1010f0"]},
              "legend": {"orient": "none", "legendX": 66.5, "legendY": 649, "title": null, "padding": 0, "symbolSize": 1600, "symbolStrokeWidth": 0, "labelOffset": 64.5, "rowPadding": 7.5, "labelFontSize": 55.5, "labelColor": "black", "labelLimit": 0,
                "symbolType": "M-3,-0.1H3V0.1H-3Z M-0.56,0A0.56,0.56,0,1,1,0.56,0A0.56,0.56,0,1,1,-0.56,0Z"}}
          }
        }
      ],
      "resolve": {"scale": {"y": "independent", "color": "independent"}}
    }
  ],
  "config": {
    "font": "Liberation Serif, Noto Sans CJK SC",
    "view": {"stroke": "black", "strokeWidth": 3},
    "axis": {
      "grid": false, "domainColor": "black", "domainWidth": 3, "tickColor": "black", "tickWidth": 3,
      "labelColor": "black", "labelFontSize": 53, "labelFont": "Liberation Serif",
      "titleFont": "Liberation Serif", "titleFontSize": 55.5, "titleFontWeight": "normal", "titleColor": "black",
      "labelOverlap": false, "labelFlush": false, "labelBound": false
    },
    "legend": {"labelFont": "Liberation Serif"},
    "text": {"font": "Liberation Serif"},
    "title": {"orient": "bottom", "anchor": "middle", "font": "Liberation Serif, Noto Sans CJK SC", "fontSize": 55.5, "fontWeight": "normal", "color": "black", "offset": 34, "baseline": "top"}
  }
}
